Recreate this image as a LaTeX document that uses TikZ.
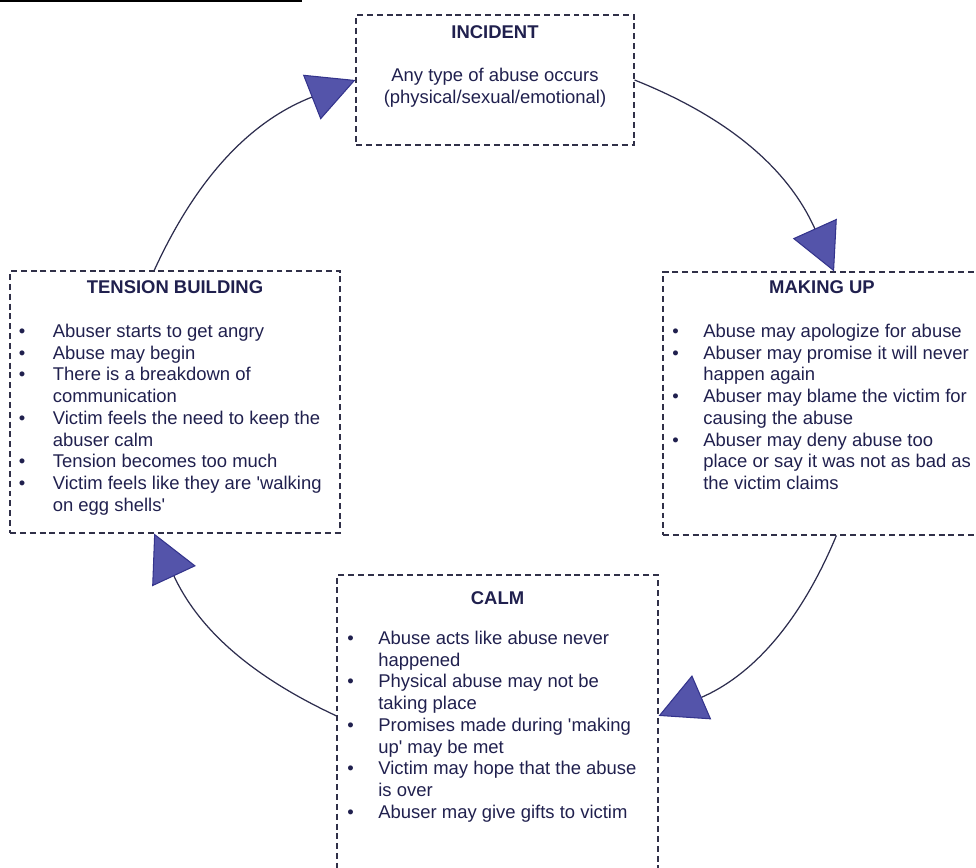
\documentclass[tikz,border=0pt]{standalone}
\usepackage{fontspec}
\setmainfont{Liberation Sans}
\usepackage{array}
\usetikzlibrary{arrows.meta}

\definecolor{ink}{RGB}{32,32,78}
\definecolor{boxline}{RGB}{48,48,72}
\definecolor{curve}{RGB}{45,45,78}
\definecolor{tipfill}{RGB}{84,84,170}
\definecolor{tipedge}{RGB}{52,52,140}

\begin{document}
\begin{tikzpicture}[x=0.02cm,y=0.02cm,
    stagebox/.style={draw=boxline,line width=0.65pt,dash pattern=on 3.4pt off 2.2pt,inner sep=0pt},
    txt/.style={text=ink,inner sep=0pt,font=\fontsize{10.5}{12.35}\selectfont},
    title/.style={txt,font=\fontsize{10.5}{12.35}\selectfont\bfseries},
    cyclearrow/.style={draw=curve,line width=0.7pt,
      -{Triangle[length=0.94cm,width=0.96cm,fill=tipfill,color=tipedge,line width=0.6pt]}}]
    \useasboundingbox (0,0) rectangle (976,867);
    \clip (0,0) rectangle (976,867);

    % Heading rule (cut off at the top)
    \draw[line width=1.6pt] (0,866.3) -- (302,866.3);

    % Stage boxes
    \node[stagebox,minimum width=5.56cm,minimum height=2.6cm] (incident) at (495,787) {};
    \node[stagebox,minimum width=6.6cm,minimum height=5.24cm] (tension) at (175,465) {};
    \node[stagebox,minimum width=6.38cm,minimum height=5.26cm] (making) at (822.5,463.5) {};
    \node[stagebox,minimum width=6.42cm,minimum height=6.2cm] (calm) at (497.5,137) {};

    % Titles
    \node[title] (incidenttitle) at (495,835) {INCIDENT};
    \node[title] (tensiontitle) at (175,580) {TENSION BUILDING};
    \node[title] (makingtitle) at (822,580) {MAKING UP};
    \node[title] (calmtitle) at (497.5,269) {CALM};

    % Incident text
    \node[txt,align=center] (incidenttext) at (495,779)
      {Any type of abuse occurs\\(physical/sexual/emotional)};

    % Tension building list
    \node[txt,anchor=north west] (tensionlist) at (18.5,545) {%
      \begin{tabular}{@{}p{0.68cm}@{}l@{}}
        \textbullet & Abuser starts to get angry\\
        \textbullet & Abuse may begin\\
        \textbullet & There is a breakdown of\\
                    & communication\\
        \textbullet & Victim feels the need to keep the\\
                    & abuser calm\\
        \textbullet & Tension becomes too much\\
        \textbullet & Victim feels like they are \textquotesingle walking\\
                    & on egg shells\textquotesingle
      \end{tabular}};

    % Making up list
    \node[txt,anchor=north west] (makinglist) at (672,545) {%
      \begin{tabular}{@{}p{0.62cm}@{}l@{}}
        \textbullet & Abuse may apologize for abuse\\
        \textbullet & Abuser may promise it will never\\
                    & happen again\\
        \textbullet & Abuser may blame the victim for\\
                    & causing the abuse\\
        \textbullet & Abuser may deny abuse too\\
                    & place or say it was not as bad as\\
                    & the victim claims
      \end{tabular}};

    % Calm list
    \node[txt,anchor=north west] (calmlist) at (347,238) {%
      \begin{tabular}{@{}p{0.62cm}@{}l@{}}
        \textbullet & Abuse acts like abuse never\\
                    & happened\\
        \textbullet & Physical abuse may not be\\
                    & taking place\\
        \textbullet & Promises made during \textquotesingle making\\
                    & up\textquotesingle\ may be met\\
        \textbullet & Victim may hope that the abuse\\
                    & is over\\
        \textbullet & Abuser may give gifts to victim
      \end{tabular}};

    % Cycle arrows (clockwise)
    \draw[cyclearrow] (tension.99) to[bend left=22] (incident.west);
    \draw[cyclearrow] (incident.east) to[bend left=22] (making.85);
    \draw[cyclearrow] (making.-84) to[bend left=22] (calm.5);
    \draw[cyclearrow] (calm.175) to[bend left=20] (tension.261);
\end{tikzpicture}
\end{document}
